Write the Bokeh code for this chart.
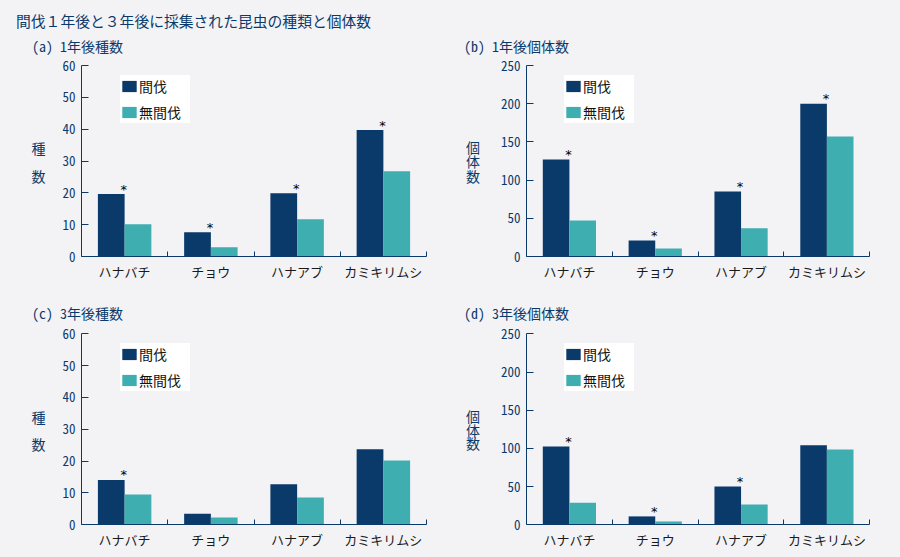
from bokeh.plotting import figure
from bokeh.models import (Range1d, FixedTicker, Label, LabelSet, Legend, LegendItem,
                          ColumnDataSource, LinearAxis)
from bokeh.layouts import column, row
from bokeh.transform import dodge
from bokeh.core.properties import value
from bokeh.embed import file_html
from bokeh.resources import INLINE

# ---------------- data ----------------
CATEGORIES = ["ハナバチ", "チョウ", "ハナアブ", "カミキリムシ"]
SERIES = ["間伐", "無間伐"]

A_THINNED = [19.6, 7.6, 19.9, 39.7]
A_UNTHINNED = [10.1, 2.9, 11.7, 26.8]
A_SIG = [True, True, True, True]

B_THINNED = [127, 21, 85, 200]
B_UNTHINNED = [47, 10.5, 37, 157]
B_SIG = [True, True, True, True]

C_THINNED = [14.1, 3.5, 12.7, 23.7]
C_UNTHINNED = [9.5, 2.3, 8.6, 20.2]
C_SIG = [True, False, False, False]

D_THINNED = [102.5, 11, 50, 104]
D_UNTHINNED = [29, 4.4, 26.6, 98.6]
D_SIG = [True, True, True, False]

SPECIES_TICKS = [0, 10, 20, 30, 40, 50, 60]
COUNT_TICKS = [0, 50, 100, 150, 200, 250]

MAIN_TITLE = "間伐１年後と３年後に採集された昆虫の種類と個体数"
SUBTITLES = ["(a) 1年後種数", "(b) 1年後個体数", "(c) 3年後種数", "(d) 3年後個体数"]
YLABEL_SPECIES = ["種", "数"]
YLABEL_COUNT = ["個", "体", "数"]

# ---------------- style ----------------
BG = "#f3f3f6"
NAVY = "#0b3a6a"
DARK = "#0a3a6a"
TEAL = "#3eaeb0"
FONT = "'Noto Sans Mono CJK JP', 'Noto Sans CJK JP'"


def make_panel(fig_left, fig_top, W, H, fl, fw, fb, fh, ticks, thinned, unthinned, sig,
               subtitle, sub_pos, ylabel_chars, ylabel_x, ylabel_ys,
               leg_pos, main_title=None):
    """All positions are page pixels; the figure occupies
    (fig_left, fig_top, W, H)."""
    n = len(CATEGORIES)
    ymax = ticks[-1]
    ux = fw / n
    uy = fh / ymax
    fl_r = fl - fig_left
    fb_r = fb - fig_top
    xr = Range1d(-fl_r / ux, (W - fl_r) / ux)
    yr = Range1d(-(H - fb_r) / uy, fb_r / uy)
    p = figure(width=W, height=H, x_range=xr, y_range=yr,
               output_backend="svg", toolbar_location=None,
               x_axis_location=None, y_axis_location=None,
               min_border=0,
               background_fill_color=BG, border_fill_color=BG,
               outline_line_color=None)
    p.grid.visible = False

    def dx(px):
        return (px - fl) / ux

    def dy(py):
        return (fb - py) / uy

    centers = [i + 0.5 for i in range(n)]
    src = ColumnDataSource(dict(x=centers, cat=CATEGORIES, a=thinned, b=unthinned))
    r1 = p.vbar(x=dodge("x", -0.155), top="a", width=0.31, source=src,
                fill_color=DARK, line_color=None)
    r2 = p.vbar(x=dodge("x", 0.155), top="b", width=0.31, source=src,
                fill_color=TEAL, line_color=None)

    sx = [c for c, s in zip(centers, sig) if s]
    sy = [v for v, s in zip(thinned, sig) if s]
    ssrc = ColumnDataSource(dict(x=sx, y=sy, t=["*"] * len(sx)))
    p.add_layout(LabelSet(x="x", y="y", text="t", source=ssrc, text_align="center",
                          text_baseline="middle", y_offset=5, x_offset=-1,
                          text_font=value("DejaVu Sans"),
                          text_font_size="13px", text_color="black"))

    # axes
    xa = LinearAxis(fixed_location=0, bounds=(0, n))
    xa.ticker = FixedTicker(ticks=centers, minor_ticks=list(range(1, n + 1)))
    xa.major_label_overrides = {c: lab for c, lab in zip(centers, CATEGORIES)}
    xa.major_tick_line_color = None
    xa.major_tick_in = 0
    xa.major_tick_out = 0
    xa.minor_tick_in = 5
    xa.minor_tick_out = 0
    xa.minor_tick_line_color = NAVY
    xa.axis_line_color = NAVY
    xa.major_label_text_font = FONT
    xa.major_label_text_font_size = "13px"
    xa.major_label_text_color = "#1a1a1a"
    xa.major_label_standoff = 5
    p.add_layout(xa, "below")

    ya = LinearAxis(fixed_location=0, bounds=(0, ymax))
    ya.ticker = FixedTicker(ticks=ticks)
    ya.major_tick_in = 7
    ya.major_tick_out = 0
    ya.minor_tick_line_color = None
    ya.major_tick_line_color = NAVY
    ya.axis_line_color = NAVY
    ya.major_label_text_font = FONT
    ya.major_label_text_font_size = "13px"
    ya.major_label_text_color = NAVY
    ya.major_label_standoff = 6
    p.add_layout(ya, "left")

    # legend; location is measured from the frame (= figure) bottom-left
    pad, item_h, spacing = 4, 22, 4
    leg_h = 2 * pad + 2 * item_h + spacing
    lx, ly_top = leg_pos[0] - fig_left, leg_pos[1] - fig_top
    legend = Legend(items=[LegendItem(label=SERIES[0], renderers=[r1]),
                           LegendItem(label=SERIES[1], renderers=[r2])],
                    location=(lx, H - ly_top - leg_h), orientation="vertical",
                    background_fill_color="white", background_fill_alpha=1.0,
                    border_line_color=None, padding=pad, spacing=spacing,
                    glyph_width=18, glyph_height=14, label_height=item_h,
                    label_width=51, label_standoff=1, margin=0,
                    label_text_font=FONT, label_text_font_size="14px",
                    label_text_color="#111111", label_text_baseline="middle")
    p.add_layout(legend)

    # texts
    p.add_layout(Label(x=dx(sub_pos[0]), y=dy(sub_pos[1]), text=subtitle,
                       text_font=FONT, text_font_size="14px",
                       text_color=NAVY, text_align="left", text_baseline="middle"))
    for ch, yy in zip(ylabel_chars, ylabel_ys):
        p.add_layout(Label(x=dx(ylabel_x), y=dy(yy), text=ch,
                           text_font=FONT, text_font_size="14px",
                           text_color=NAVY, text_align="center",
                           text_baseline="middle"))
    if main_title:
        p.add_layout(Label(x=dx(15.5), y=dy(19.5), text=main_title,
                           text_font=FONT, text_font_size="14.8px",
                           text_color=NAVY, text_align="left",
                           text_baseline="middle"))
    return p


TOP_H, BOT_H = 290, 267
pa = make_panel(0, 0, 450, TOP_H, 81, 345, 256, 191, SPECIES_TICKS,
                A_THINNED, A_UNTHINNED, A_SIG,
                SUBTITLES[0], (31.5, 45), YLABEL_SPECIES, 38, [147, 175], (120, 67),
                main_title=MAIN_TITLE)
pb = make_panel(450, 0, 450, TOP_H, 526, 343.3, 256, 191, COUNT_TICKS,
                B_THINNED, B_UNTHINNED, B_SIG,
                SUBTITLES[1], (463.5, 45), YLABEL_COUNT, 472.5, [146.7, 160.5, 175], (564, 67))
pc = make_panel(0, TOP_H, 450, BOT_H, 81, 345, 524.3, 191, SPECIES_TICKS,
                C_THINNED, C_UNTHINNED, C_SIG,
                SUBTITLES[2], (31.5, 312), YLABEL_SPECIES, 38, [416, 443.5], (120, 335))
pd = make_panel(450, TOP_H, 450, BOT_H, 526, 343.3, 524.3, 191, COUNT_TICKS,
                D_THINNED, D_UNTHINNED, D_SIG,
                SUBTITLES[3], (463.5, 312), YLABEL_COUNT, 472.5, [415, 429.5, 442.5], (564, 335))

bgstyle = {"background-color": BG}
layout = column(row(pa, pb, styles=bgstyle), row(pc, pd, styles=bgstyle),
                styles={"background-color": BG,
                        "outline": "2px solid #0b3a6a", "outline-offset": "-2px"})

open("out.html", "w").write(file_html(layout, INLINE))
